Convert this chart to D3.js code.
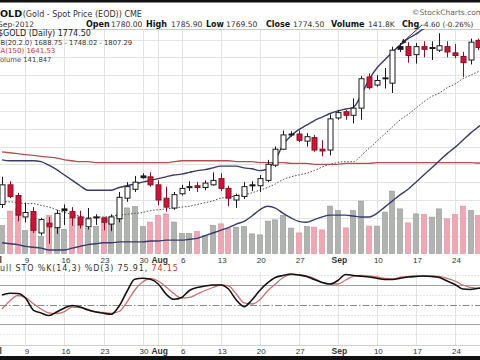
<!DOCTYPE html>
<html><head><meta charset="utf-8">
<script src="https://cdn.jsdelivr.net/npm/d3@7"></script>
<style>body{margin:0;background:#fff}svg{display:block}</style>
</head><body>
<svg id="c" width="480" height="360"></svg>
<script>
// ---------- data ----------
const dates = ["07-03","07-05","07-06","07-09","07-10","07-11","07-12","07-13","07-16","07-17","07-18","07-19","07-20",
"07-23","07-24","07-25","07-26","07-27","07-30","07-31","08-01","08-02","08-03","08-06","08-07","08-08","08-09","08-10",
"08-13","08-14","08-15","08-16","08-17","08-20","08-21","08-22","08-23","08-24","08-27","08-28","08-29","08-30","08-31",
"09-03","09-04","09-05","09-06","09-07","09-10","09-11","09-12","09-13","09-14","09-17","09-18","09-19","09-20","09-21",
"09-24","09-25","09-26","09-27","09-28"];
const open  = [1595,1617,1605,1581,1587,1563,1574,1569,1590,1587,1581,1570,1581,1580,1573,1579,1602,1612,1627,1626,1617,1602,1591,1607,1614,1616,1614,1617,1624,1613,1600,1604,1617,1616,1622,1639,1657,1673,1674,1666,1670,1657,1656,1692,1699,1695,1703,1738,1729,1736,1731,1772,1772,1763,1772,1770,1768,1772,1765,1761,1757,1779,1780];
const high  = [1626,1621,1608,1597,1592,1580,1581,1589,1595,1592,1588,1591,1584,1581,1584,1609,1620,1627,1630,1631,1622,1615,1609,1617,1621,1620,1622,1631,1630,1616,1607,1620,1621,1628,1645,1660,1678,1677,1678,1675,1673,1667,1696,1701,1701,1714,1739,1742,1740,1748,1772,1776,1777,1776,1778,1778,1787,1778,1775,1766,1781,1781,1785.9];
const low   = [1591,1602,1576,1575,1563,1560,1551,1562,1572,1571,1568,1567,1572,1566,1565,1575,1598,1609,1624,1615,1594,1587,1589,1605,1610,1609,1611,1616,1610,1593,1591,1601,1610,1609,1620,1637,1656,1671,1665,1660,1654,1649,1650,1690,1690,1686,1690,1724,1727,1725,1720,1766,1754,1753,1760,1757,1766,1760,1759,1738,1752,1768,1769.5];
const close = [1617,1604,1583,1586,1566,1578,1570,1585,1588,1580,1572,1579,1580,1575,1581,1603,1615,1620,1625,1617,1600,1592,1606,1613,1615,1614,1619,1622,1613,1602,1605,1615,1616,1624,1640,1657,1673,1674,1667,1671,1656,1655,1691,1698,1695,1703,1736,1726,1734,1737,1768,1769,1762,1772,1769,1771,1773,1766,1762,1754,1777,1771,1774.5];
const volume = [140,212,225,115,173,85,190,125,120,175,140,125,135,175,180,195,228,235,135,157,190,198,157,100,100,110,90,140,148,125,132,135,98,93,162,168,190,127,103,135,132,118,237,215,128,215,262,137,137,207,312,223,153,198,195,182,223,173,195,237,215,190,142];
const bbUpper = [1645,1644,1644,1644,1644,1643,1639,1634,1628,1622,1616,1611,1611,1611,1611,1614,1616,1618,1620,1622,1624,1626,1628,1629,1631,1633,1634,1636,1638,1638,1638,1636,1635,1633,1635,1645,1662,1672,1679,1684,1689,1693,1697,1700,1702,1704,1718,1735,1748,1757,1766,1774,1781,1786,1792,1795,1797,1800,1802,1804,1805,1806,1807.29];
const bbMiddle = [1598,1598,1597,1596,1596,1594,1592,1589,1586,1584,1582,1580,1581,1581,1582,1583,1584,1585,1586,1588,1589,1590,1591,1592,1593,1595,1597,1599,1602,1603,1605,1606,1608,1611,1614,1618,1623,1626,1628,1630,1633,1637,1640,1642,1643,1643,1650,1658,1666,1674,1682,1690,1696,1703,1710,1716,1720,1726,1730,1736,1740,1744,1748.02];
const bbLower = [1552,1551,1550,1548,1547,1546,1544,1544,1544,1546,1548,1550,1551,1552,1552,1553,1553,1553,1553,1554,1554,1555,1555,1555,1556,1557,1560,1563,1566,1569,1573,1576,1582,1589,1593,1591,1585,1580,1576,1575,1578,1581,1583,1583,1583,1582,1581,1581,1585,1592,1599,1606,1612,1620,1628,1636,1644,1652,1659,1667,1675,1682,1688.75];
const ma150 = [1654,1653,1652,1651,1650,1649,1648,1647,1645,1644,1643,1643,1642,1642,1642,1642,1642,1642,1642,1642,1642,1642,1643,1644,1644,1644,1644,1644,1644,1644,1643,1643,1643,1642,1642,1642,1642,1641,1641,1641,1640,1640,1640,1640,1641,1641,1641,1641,1642,1642,1642,1642,1642,1642,1642,1642,1642,1642,1642,1642,1642,1641.5,1641.53];
const stochK = [64.8,67.4,67.1,60.2,41.9,37.4,33.5,38.9,45,48.8,46.5,41.9,38.9,36.9,35.4,48,70.1,88.7,90.2,88.7,81.5,66.3,58.2,61,71.6,76.2,78.5,80,80,73.9,57.2,47,57.2,71.6,83.1,91.5,94.5,96.8,95.3,93,88.4,83.8,81.5,86.9,96,94.5,93.3,92.2,90.2,88.4,88.4,90.2,92.2,93,93.7,93,91.5,86.1,80.8,73.9,73.2,75,75.91];
const stochD = [43.4,55.6,64,61,51.8,43.4,37.4,36.6,39.6,46.5,45.7,42.7,39.6,38.1,36.9,39.6,54.1,72.4,84.6,89.9,86.1,77,67.1,60.2,61,66.3,71.6,76.2,80,78.5,66.3,52.6,51.1,57.2,70.9,81.5,91.5,95.3,95.3,93.7,89.9,83.8,81.5,81.5,87.6,93,94.5,93.7,92.2,89.9,89.2,91.8,93,93.7,93.7,93.7,93,89.9,86.1,80,76.2,75,74.15];
const tickIndex  = [-1,3,8,13,18,20,23,28,33,38,43,48,53,58];
const tickLabels = ["Jul","9","16","23","30","Aug","6","13","20","27","Sep","10","17","24"];
const monthLabels = ["Jul","Aug","Sep"];
const priceGrid = [1560,1580,1600,1620,1640,1660,1680,1700,1720,1740,1760,1780];
const stochGrid = [95,65,35,5];
const stochBands = [80,20];
const stochMid = 50;

// ---------- drawing ----------
const svg = d3.select("#c");
const SANS = "'DejaVu Sans', Verdana, sans-serif";
const ARIAL = "Arial, 'Liberation Sans', sans-serif";
const n = close.length;

const x  = d3.scaleLinear().domain([0, 62]).range([2, 486.2]);
const y  = d3.scaleLinear().domain([1540, 1780]).range([253.5, 39.5]);
const yv = d3.scaleLinear().domain([0, 400]).range([253.5, 173.5]);
const ys = d3.scaleLinear().domain([20, 80]).range([324.4, 285]);

const P = {top: 29, bottom: 254};
const S = {top: 264, bottom: 346};

svg.append("rect").attr("width",480).attr("height",360).attr("fill","#fff");

const defs = svg.append("defs");
defs.append("clipPath").attr("id","pc").append("rect").attr("x",0).attr("y",P.top).attr("width",480).attr("height",P.bottom-P.top);
defs.append("clipPath").attr("id","sc").append("rect").attr("x",0).attr("y",S.top).attr("width",480).attr("height",S.bottom-S.top);

const crisp = v => Math.round(v) + 0.5;

// grids
const grid = svg.append("g");
grid.selectAll(".hg").data(priceGrid).join("line")
  .attr("x1",0).attr("x2",480).attr("y1",d=>crisp(y(d))).attr("y2",d=>crisp(y(d)))
  .attr("stroke","#e3e3e3").attr("stroke-width",1);
grid.selectAll(".vg").data(tickIndex).join("line")
  .attr("x1",d=>crisp(x(d))).attr("x2",d=>crisp(x(d))).attr("y1",P.top).attr("y2",P.bottom)
  .attr("stroke","#e3e3e3").attr("stroke-width",1);
grid.selectAll(".vs").data(tickIndex).join("line")
  .attr("x1",d=>crisp(x(d))).attr("x2",d=>crisp(x(d))).attr("y1",S.top+8).attr("y2",S.bottom)
  .attr("stroke","#e3e3e3").attr("stroke-width",1);
grid.append("line").attr("x1",0).attr("x2",480).attr("y1",P.top+0.5).attr("y2",P.top+0.5).attr("stroke","#c8c8c8");
grid.append("line").attr("x1",0).attr("x2",480).attr("y1",S.bottom-0.5).attr("y2",S.bottom-0.5).attr("stroke","#cfcfcf");

// price panel
const pg = svg.append("g").attr("clip-path","url(#pc)");
const isUp = i => i === 0 ? close[i] >= open[i] : close[i] >= close[i-1];
const idx = d3.range(n);

pg.selectAll(".vol").data(idx).join("rect")
  .attr("x", i => Math.round(x(i)) - 2.5).attr("width", 5)
  .attr("y", i => yv(volume[i])).attr("height", i => yv(0) - yv(volume[i]))
  .attr("fill", i => isUp(i) ? "#b1b3b1" : "#efa7b4")
  .attr("stroke", i => isUp(i) ? "#939593" : "#d98c9b").attr("stroke-width",0.6);

const line = arr => d3.line().x((d,i)=>x(i)).y(d=>y(d)).curve(d3.curveMonotoneX)(arr);
pg.append("path").attr("d", line(ma150)).attr("fill","none").attr("stroke","#b4504e").attr("stroke-width",1.3);
pg.append("path").attr("d", line(bbMiddle)).attr("fill","none").attr("stroke","#555").attr("stroke-width",1).attr("stroke-dasharray","1.6,1.6");
pg.append("path").attr("d", line(bbUpper)).attr("fill","none").attr("stroke","#373c6b").attr("stroke-width",1.4);
pg.append("path").attr("d", line(bbLower)).attr("fill","none").attr("stroke","#373c6b").attr("stroke-width",1.4);

const cg = pg.append("g");
const candleCol = i => isUp(i) ? "#1a1a1a" : "#a3142a";
cg.selectAll(".wick").data(idx).join("line")
  .attr("x1", i => crisp(x(i))).attr("x2", i => crisp(x(i)))
  .attr("y1", i => y(high[i])).attr("y2", i => y(low[i]))
  .attr("stroke", i => isUp(i) ? "#1a1a1a" : "#8c1022").attr("stroke-width",1);
cg.selectAll(".body").data(idx).join("rect")
  .attr("x", i => Math.round(x(i)) - 2).attr("width", 5)
  .attr("y", i => y(Math.max(open[i], close[i])))
  .attr("height", i => Math.max(1, Math.abs(y(open[i]) - y(close[i]))))
  .attr("fill", i => close[i] > open[i] ? "#fff" : (isUp(i) ? "#1a1a1a" : "#c8163a"))
  .attr("stroke", i => isUp(i) ? "#1a1a1a" : "#8c1022").attr("stroke-width",1);

// annotation arrow
svg.append("line").attr("x1",422).attr("y1",25).attr("x2",404).attr("y2",41).attr("stroke","#222").attr("stroke-width",0.9);
svg.append("path").attr("d","M401,44 L403.2,38.6 L406.6,42.4 Z").attr("fill","#222");

// stochastic panel
const sg = svg.append("g");
sg.selectAll(".sgl").data(stochGrid).join("line")
  .attr("x1",0).attr("x2",480).attr("y1",d=>crisp(ys(d))).attr("y2",d=>crisp(ys(d)))
  .attr("stroke","#e6e6e6").attr("stroke-dasharray","2,1");
sg.selectAll(".sbl").data(stochBands).join("line")
  .attr("x1",0).attr("x2",480).attr("y1",d=>crisp(ys(d))).attr("y2",d=>crisp(ys(d)))
  .attr("stroke","#a0a0a0").attr("stroke-width",1);
sg.append("line").attr("x1",0).attr("x2",480).attr("y1",crisp(ys(stochMid))).attr("y2",crisp(ys(stochMid)))
  .attr("stroke","#8a8a8a").attr("stroke-dasharray","7,2,1.5,2");
const sline = arr => d3.line().x((d,i)=>x(i)).y(d=>ys(d)).curve(d3.curveMonotoneX)(arr);
const sc = svg.append("g").attr("clip-path","url(#sc)");
sc.append("path").attr("d", sline(stochD)).attr("fill","none").attr("stroke","#c9706e").attr("stroke-width",1.3);
sc.append("path").attr("d", sline(stochK)).attr("fill","none").attr("stroke","#111").attr("stroke-width",1.6);

// axes (date labels)
function dateAxis(yPos){
  const g = svg.append("g").attr("transform",`translate(1,${yPos})`)
    .call(d3.axisBottom(x).tickValues(tickIndex).tickFormat((d,i)=>tickLabels[i]).tickSize(0).tickPadding(1));
  g.select(".domain").remove();
  g.selectAll("text").attr("font-family",ARIAL).attr("fill","#333")
    .attr("font-size", (d,i)=> monthLabels.includes(tickLabels[i]) ? 8.5 : 8)
    .attr("font-weight", (d,i)=> monthLabels.includes(tickLabels[i]) ? "bold" : "normal");
}
dateAxis(256);
dateAxis(347);

// header texts
const T = (txt, xx, yy, size, opts={}) => svg.append("text").text(txt).attr("x",xx).attr("y",yy)
  .attr("font-family", opts.family || SANS).attr("font-size",size)
  .attr("font-weight", opts.bold ? "bold" : "normal").attr("fill", opts.fill || "#222")
  .attr("letter-spacing", opts.ls || 0);

T("$GOLD", -14.4, 16.5, 9.5, {bold:true, fill:"#111"});
T("(Gold - Spot Price (EOD)) CME", 22.7, 16.5, 8, {fill:"#333"});
T("©StockCharts.com", 412, 14.5, 7.5, {fill:"#666"});

T("28-Sep-2012", -14.2, 26.5, 7.5, {fill:"#333"});
T("Open", 86, 26.5, 8, {bold:true, fill:"#111"});
T("1780.00", 111, 26.5, 7.6, {fill:"#333"});
T("High", 146, 26.5, 8, {bold:true, fill:"#111"});
T("1785.90", 171, 26.5, 7.6, {fill:"#333"});
T("Low", 206, 26.5, 8, {bold:true, fill:"#111"});
T("1769.50", 226, 26.5, 7.6, {fill:"#333"});
T("Close", 266, 26.5, 8, {bold:true, fill:"#111"});
T("1774.50", 293, 26.5, 7.6, {fill:"#333"});
T("Volume", 331, 26.5, 8, {bold:true, fill:"#111"});
T("141.8K", 368, 26.5, 7.6, {fill:"#333"});
T("Chg", 402, 26.5, 8, {bold:true, fill:"#111"});
T("-4.60 (-0.26%)", 421.5, 26.5, 7.2, {fill:"#333"});

T("$GOLD (Daily) 1774.50", -2, 36.3, 8, {fill:"#222"});
T("BB(20,2.0) 1688.75 - 1748.02 - 1807.29", -4.2, 44.8, 6.8, {fill:"#333"});
T("MA(150) 1641.53", -5.5, 53.2, 7, {fill:"#c0392b"});
T("Volume 141,847", -4.2, 62, 6.8, {fill:"#444"});

const st = T("Full STO %K(14,3) %D(3) 75.91, ", -5, 270.5, 8, {fill:"#333", ls:0.85});
st.append("tspan").text("74.15").attr("fill","#c0392b");

// black bands
svg.append("rect").attr("x",0).attr("y",0).attr("width",480).attr("height",2.5).attr("fill","#111");
svg.append("rect").attr("x",0).attr("y",356).attr("width",480).attr("height",4).attr("fill","#111");
</script>
</body></html>
